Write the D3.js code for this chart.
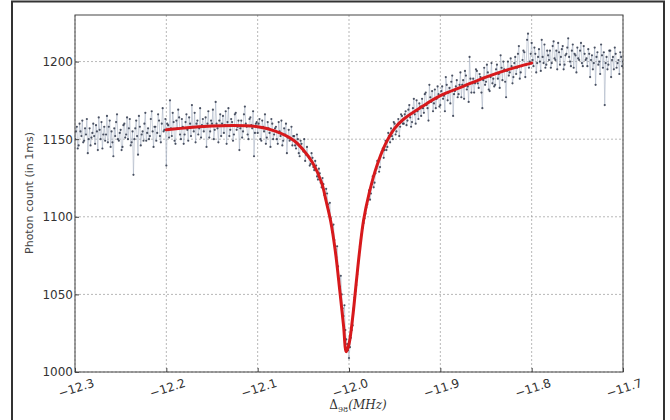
<!DOCTYPE html>
<html><head><meta charset="utf-8">
<script src="https://cdn.jsdelivr.net/npm/d3@7"></script>
<style>
html,body{margin:0;padding:0;background:#fff;}
svg{display:block;}
</style></head>
<body>
<script>
// ---- data ----
const xStart = -12.3, xStep = 0.002;
// readings at -12.300, -12.298, ...
const counts = [
1150,1158,1146,1155,1162,1149,1153,1141,1157,1151,
1160,1147,1155,1164,1150,1144,1158,1153,1148,1162,
1155,1139,1152,1166,1149,1156,1145,1160,1153,1150,
1163,1148,1127,1157,1152,1165,1146,1155,1160,1149,
1157,1152,1168,1145,1158,1154,1162,1148,1170,1156,
1133,1159,1175,1152,1161,1147,1157,1164,1150,1158,
1153,1166,1149,1160,1172,1155,1148,1162,1157,1151,
1163,1158,1145,1168,1155,1160,1150,1174,1157,1162,
1152,1165,1159,1147,1170,1156,1161,1153,1167,1158,
1143,1162,1155,1171,1158,1150,1164,1157,1139,1160,
1154,1163,1149,1158,1166,1151,1157,1145,1160,1153,
1158,1147,1155,1162,1149,1153,1141,1156,1150,1146,
1152,1144,1150,1139,1147,1142,1136,1145,1138,1134,
1138,1130,1133,1124,1128,1119,1121,1112,1115,1104,
1099,1090,1085,1074,1068,1055,1050,1036,1027,1018,
1009,1022,1030,1048,1056,1070,1081,1089,1096,1102,
1108,1117,1115,1126,1122,1131,1135,1132,1142,1138,
1149,1145,1152,1157,1150,1160,1155,1163,1158,1165,
1160,1168,1162,1172,1158,1170,1166,1175,1163,1171,
1176,1167,1180,1170,1185,1174,1168,1182,1176,1179,
1172,1184,1178,1190,1175,1183,1187,1165,1181,1188,
1179,1193,1185,1176,1191,1184,1203,1180,1189,1186,
1194,1183,1190,1170,1196,1187,1193,1181,1199,1189,
1185,1198,1192,1204,1188,1195,1177,1200,1193,1197,
1190,1203,1196,1210,1193,1201,1206,1198,1218,1200,
1212,1197,1205,1199,1208,1194,1203,1211,1198,1204,
1207,1199,1213,1201,1195,1206,1203,1210,1198,1205,
1215,1200,1207,1196,1204,1209,1201,1212,1197,1205,
1202,1208,1190,1204,1199,1185,1206,1200,1211,1196,
1172,1203,1198,1207,1201,1195,1205,1199,1192,1203,1200
];
// readings at -12.299, -12.297, ...
const counts2 = [
1155,1144,1160,1152,1148,1157,1163,1150,1146,1154,
1152,1159,1143,1156,1161,1153,1149,1165,1158,1145,
1148,1157,1161,1150,1154,1143,1159,1151,1164,1157,
1146,1155,1150,1162,1140,1158,1153,1149,1167,1154,
1150,1163,1155,1158,1149,1166,1152,1160,1155,1163,
1160,1151,1157,1167,1149,1162,1169,1153,1163,1147,
1161,1156,1164,1152,1158,1167,1160,1153,1170,1159,
1155,1164,1160,1151,1162,1169,1156,1160,1148,1166,
1160,1154,1168,1161,1152,1163,1149,1166,1156,1162,
1157,1151,1166,1160,1153,1163,1159,1168,1154,1161,
1160,1150,1162,1155,1147,1161,1154,1163,1150,1157,
1150,1161,1152,1146,1157,1160,1151,1149,1158,1152,
1146,1153,1141,1149,1144,1150,1140,1139,1133,1141,
1132,1136,1126,1131,1122,1125,1114,1118,1108,1109,
1094,1095,1079,1081,1060,1062,1041,1043,1021,1014,
1016,1027,1041,1052,1063,1075,1085,1093,1099,1106,
1112,1111,1121,1119,1128,1136,1129,1140,1144,1143,
1143,1154,1148,1152,1161,1153,1159,1152,1166,1160,
1166,1159,1169,1164,1161,1176,1160,1168,1173,1165,
1170,1179,1172,1162,1177,1181,1173,1170,1184,1171,
1181,1176,1168,1185,1180,1173,1191,1179,1184,1177,
1185,1177,1188,1194,1182,1174,1189,1186,1180,1195,
1186,1192,1180,1188,1185,1198,1182,1190,1186,1184,
1195,1189,1183,1196,1200,1187,1194,1191,1202,1186,
1199,1192,1205,1189,1197,1207,1190,1214,1196,1205,
1201,1209,1193,1203,1200,1214,1199,1196,1207,1201,
1196,1210,1202,1207,1212,1198,1208,1195,1204,1209,
1203,1197,1211,1205,1193,1202,1207,1199,1210,1201,
1197,1205,1201,1195,1209,1203,1198,1192,1204,1206,
1199,1195,1207,1190,1203,1209,1196,1201,1206,1197
];
const fitX = [-12.20,-12.15,-12.10,-12.08,-12.06,-12.05,-12.04,-12.03,-12.025,-12.02,-12.015,-12.01,-12.006,-12.003,-12.0,-11.996,-11.992,-11.988,-11.984,-11.978,-11.97,-11.96,-11.95,-11.94,-11.92,-11.90,-11.875,-11.85,-11.825,-11.80];
const fitY = [1156,1158.5,1158,1155,1149,1143,1135,1122,1110,1097,1078,1052,1030,1013,1018,1035,1058,1080,1098,1115,1132,1147,1157,1163,1171,1178,1184,1190,1195,1199];
const xTicks = [-12.3,-12.2,-12.1,-12.0,-11.9,-11.8,-11.7];
const xTickLabels = ["\u221212.3","\u221212.2","\u221212.1","\u221212.0","\u221211.9","\u221211.8","\u221211.7"];
const yTicks = [1000,1050,1100,1150,1200];
const yTickLabels = ["1000","1050","1100","1150","1200"];

// ---- layout ----
const W = 670, H = 420;
const L = 75, R = 623, T = 15, B = 372;
const svg = d3.select("body").append("svg").attr("width", W).attr("height", H);

// outer frame
svg.append("rect").attr("x", 12).attr("y", 1.5).attr("width", 652).attr("height", 430)
  .attr("fill", "none").attr("stroke", "#333").attr("stroke-width", 2);

const x = d3.scaleLinear().domain([-12.3, -11.7]).range([L, R]);
const y = d3.scaleLinear().domain([1000, 1230]).range([B, T]);

const data = counts.map((c, i) => ({x: xStart + i * xStep, y: c}))
  .concat(counts2.map((c, i) => ({x: xStart + 0.001 + i * xStep, y: c})))
  .sort((a, b) => a.x - b.x);
const fit = fitX.map((v, i) => ({x: v, y: fitY[i]}));

const g = svg.append("g");
// grid
g.selectAll("line.gx").data(xTicks).join("line")
  .attr("x1", d => x(d)).attr("x2", d => x(d)).attr("y1", T).attr("y2", B)
  .attr("stroke", "#9a9a9a").attr("stroke-width", 0.7).attr("stroke-dasharray", "2,2");
g.selectAll("line.gy").data(yTicks).join("line")
  .attr("x1", L).attr("x2", R).attr("y1", d => y(d)).attr("y2", d => y(d))
  .attr("stroke", "#9a9a9a").attr("stroke-width", 0.7).attr("stroke-dasharray", "2,2");

svg.append("clipPath").attr("id", "c").append("rect")
  .attr("x", L).attr("y", T).attr("width", R - L).attr("height", B - T);
const pg = svg.append("g").attr("clip-path", "url(#c)");

// data line
pg.append("path").datum(data)
  .attr("d", d3.line().x(d => x(d.x)).y(d => y(d.y)))
  .attr("fill", "none").attr("stroke", "#aab4c4").attr("stroke-width", 0.6);
// dots
pg.selectAll("circle").data(data).join("circle")
  .attr("cx", d => x(d.x)).attr("cy", d => y(d.y)).attr("r", 1.1)
  .attr("fill", "#2f374a").attr("fill-opacity", 0.85);
// fit
pg.append("path").datum(fit)
  .attr("d", d3.line().curve(d3.curveCatmullRom.alpha(0.5)).x(d => x(d.x)).y(d => y(d.y)))
  .attr("fill", "none").attr("stroke", "#d7191c").attr("stroke-width", 3).attr("stroke-linecap", "round");

// axes frame
svg.append("rect").attr("x", L).attr("y", T).attr("width", R - L).attr("height", B - T)
  .attr("fill", "none").attr("stroke", "#444").attr("stroke-width", 1);

// y axis
const yAxis = d3.axisLeft(y).tickValues(yTicks).tickFormat((d, i) => yTickLabels[i]).tickSize(4).tickSizeOuter(0);
const ya = svg.append("g").attr("transform", `translate(${L},0)`).call(yAxis);
ya.select(".domain").remove();
ya.selectAll("line").attr("stroke", "#444").attr("x2", 4);
ya.selectAll("text").attr("x", -2).attr("font-family", "DejaVu Sans").attr("font-size", 12).attr("fill", "#333");

// x axis
const xAxis = d3.axisBottom(x).tickValues(xTicks).tickFormat((d, i) => xTickLabels[i]).tickSize(4).tickSizeOuter(0);
const xa = svg.append("g").attr("transform", `translate(0,${B})`).call(xAxis);
xa.select(".domain").remove();
xa.selectAll("line").attr("stroke", "#444").attr("y2", -4);
xa.selectAll("text")
  .attr("font-family", "DejaVu Sans").attr("font-size", 12).attr("fill", "#333")
  .attr("y", 0).attr("dy", 0)
  .attr("text-anchor", "middle")
  .attr("transform", "translate(2,20) rotate(-18)");

// labels
svg.append("text").attr("transform", "translate(33,193) rotate(-90)")
  .attr("text-anchor", "middle").attr("font-family", "DejaVu Sans").attr("font-size", 11).attr("fill", "#444")
  .text("Photon count (in 1ms)");

const xl = svg.append("text").attr("x", 358).attr("y", 409).attr("text-anchor", "middle")
  .attr("font-family", "DejaVu Serif").attr("font-size", 12).attr("fill", "#333");
xl.append("tspan").text("\u0394");
xl.append("tspan").attr("font-size", 8).attr("dy", 3).text("98");
xl.append("tspan").attr("dy", -3).attr("font-style", "italic").text("(MHz)");
</script>
</body></html>
